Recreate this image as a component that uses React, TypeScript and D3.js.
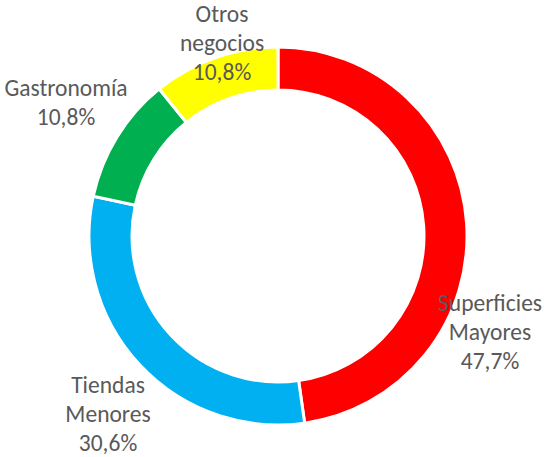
import React from 'react';
import * as d3 from 'd3';

const categories = ['Superficies Mayores', 'Tiendas Menores', 'Gastronomía', 'Otros negocios'];
const values = [47.7, 30.6, 10.8, 10.8];
const colors = ['#ff0000', '#00b0f0', '#00b050', '#ffff00'];
const labelLines = [['Superficies', 'Mayores'], ['Tiendas', 'Menores'], ['Gastronomía'], ['Otros', 'negocios']];

// label anchors (center of first line), layout only
const labelAnchors: [number, number][] = [[490, 303], [108, 385], [66, 88], [222, 14]];

const W = 544, H = 457;
const cx = 278, cy = 236;
const outerR = 189, innerR = 146;

export default function App() {
  const ref = React.useRef<SVGSVGElement>(null);

  React.useEffect(() => {
    const svg = d3.select(ref.current);
    svg.selectAll('*').remove();

    const pie = d3.pie<number>().sort(null).value(d => d);
    const arc = d3.arc<d3.PieArcDatum<number>>().innerRadius(innerR).outerRadius(outerR);

    const g = svg.append('g').attr('transform', `translate(${cx},${cy})`);
    g.selectAll('path')
      .data(pie(values))
      .enter().append('path')
      .attr('d', arc)
      .attr('fill', (d, i) => colors[i])
      .attr('stroke', '#ffffff')
      .attr('stroke-width', 3);

    const fmt = (v: number) => d3.format('.1f')(v).replace('.', ',') + '%';
    const lh = 29;
    categories.forEach((c, i) => {
      const lines = [...labelLines[i], fmt(values[i])];
      const t = svg.append('text')
        .attr('text-anchor', 'middle')
        .attr('font-family', "Carlito, Calibri, 'Noto Sans', sans-serif")
        .attr('font-size', 23.5)
        .attr('fill', '#595959');
      lines.forEach((l, k) => {
        t.append('tspan')
          .attr('x', labelAnchors[i][0])
          .attr('y', labelAnchors[i][1] + k * lh)
          .attr('dy', '0.35em')
          .text(l);
      });
    });
  }, []);

  return (
    <svg ref={ref} width={W} height={H} style={{ position: 'absolute', left: 0, top: 0, background: '#fff' }} />
  );
}
